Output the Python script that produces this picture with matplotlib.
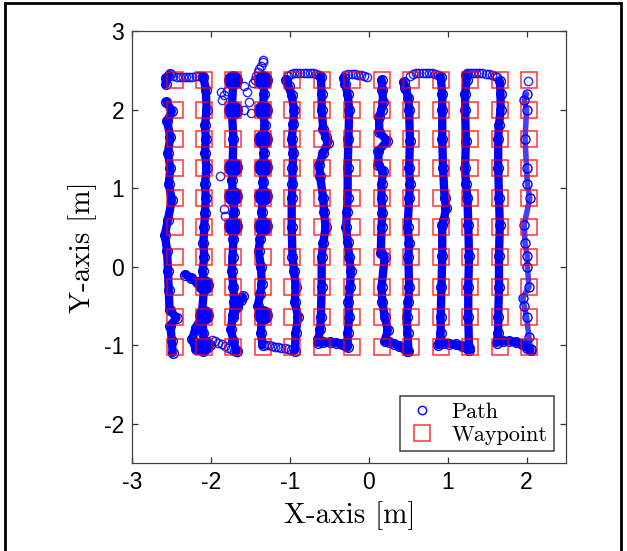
import matplotlib.pyplot as plt
from matplotlib.lines import Line2D
from matplotlib.patches import Rectangle

plt.rcParams['axes.unicode_minus'] = False

# waypoint grid [m]
wp_x = [-2.46, -2.09, -1.72, -1.35, -0.97, -0.60, -0.22, 0.16, 0.53, 0.91, 1.28, 1.66, 2.03]
wp_y = [2.38, 2.00, 1.63, 1.25, 0.87, 0.50, 0.12, -0.26, -0.64, -1.02]

# flown path, dense legs
col1_x = [-2.49, -2.50, -2.52, -2.44, -2.53, -2.54, -2.55, -2.56, -2.59, -2.55, -2.50, -2.54, -2.52, -2.55, -2.52, -2.56, -2.50, -2.57]
col1_y = [-1.10, -0.95, -0.75, -0.65, -0.55, -0.30, -0.05, 0.20, 0.40, 0.60, 0.85, 1.05, 1.25, 1.45, 1.65, 1.85, 1.98, 2.10]
top1_x = [-2.58, -2.57, -2.53]
top1_y = [2.32, 2.40, 2.45]

col2_x = [-2.10, -2.07, -2.06, -2.08, -2.07, -2.08, -2.06, -2.08, -2.07, -2.08, -2.09, -2.10, -2.09, -2.11, -2.09, -2.12, -2.10, -2.08]
col2_y = [2.42, 2.25, 2.00, 1.80, 1.63, 1.45, 1.25, 1.05, 0.87, 0.68, 0.50, 0.30, 0.12, -0.05, -0.26, -0.60, -0.85, -1.02]
spur2_x = [-2.10, -2.18, -2.26, -2.33]
spur2_y = [-0.26, -0.20, -0.14, -0.10]
foot2_x = [-2.12, -2.20, -2.24, -2.20, -2.10, -2.02]
foot2_y = [-0.65, -0.78, -0.92, -1.05, -1.08, -1.00]

col3_x = [-1.68, -1.72, -1.75, -1.73, -1.71, -1.72, -1.74, -1.73, -1.72, -1.73, -1.71, -1.72, -1.74, -1.73, -1.72, -1.74, -1.72]
col3_y = [-1.08, -0.95, -0.80, -0.64, -0.45, -0.26, -0.05, 0.12, 0.35, 0.52, 0.70, 0.90, 1.10, 1.27, 1.63, 2.00, 2.38]
spur3_x = [-1.72, -1.67, -1.62, -1.60]
spur3_y = [-0.62, -0.52, -0.42, -0.38]

col4_x = [-1.34, -1.33, -1.35, -1.32, -1.35, -1.33, -1.35, -1.34, -1.35, -1.36, -1.35, -1.38, -1.40, -1.37, -1.36, -1.38, -1.41, -1.36, -1.37, -1.35]
col4_y = [2.38, 2.20, 2.00, 1.80, 1.63, 1.45, 1.27, 1.08, 0.90, 0.70, 0.52, 0.35, 0.20, 0.00, -0.22, -0.35, -0.50, -0.62, -0.85, -1.00]

col5_x = [-0.94, -0.93, -0.90, -0.94, -0.93, -0.95, -0.97, -0.98, -0.98, -0.97, -0.97, -0.96, -0.98, -0.96, -0.95, -0.98, -1.02, -1.05]
col5_y = [-1.07, -0.85, -0.64, -0.45, -0.26, -0.05, 0.12, 0.50, 0.87, 1.05, 1.25, 1.45, 1.63, 1.82, 2.00, 2.18, 2.30, 2.38]

col6_x = [-0.61, -0.60, -0.60, -0.58, -0.55, -0.52, -0.58, -0.63, -0.62, -0.58, -0.57, -0.55, -0.58, -0.60, -0.60, -0.61, -0.62, -0.64, -0.65,
          -0.58, -0.50, -0.42, -0.34, -0.29]
col6_y = [2.42, 2.20, 2.00, 1.75, 1.65, 1.58, 1.45, 1.30, 1.15, 0.87, 0.70, 0.50, 0.30, 0.12, -0.26, -0.64, -0.80, -0.92, -0.97,
          -0.96, -0.96, -0.97, -0.99, -1.01]

col7_x = [-0.27, -0.27, -0.25, -0.26, -0.24, -0.23, -0.25, -0.27, -0.29, -0.28, -0.27, -0.27, -0.26, -0.25, -0.27, -0.30, -0.32]
col7_y = [-1.02, -0.85, -0.64, -0.45, -0.26, -0.05, 0.12, 0.32, 0.50, 0.70, 0.87, 1.25, 1.63, 2.00, 2.20, 2.32, 2.40]

col8_x = [0.16, 0.17, 0.18, 0.16, 0.13, 0.13, 0.23, 0.12, 0.12, 0.18, 0.16, 0.16, 0.17, 0.16, 0.15, 0.20, 0.16, 0.17, 0.20, 0.24, 0.20,
          0.26, 0.32, 0.38, 0.44, 0.48]
col8_y = [2.38, 2.25, 2.10, 2.00, 1.90, 1.72, 1.60, 1.47, 1.30, 1.22, 1.05, 0.87, 0.68, 0.51, 0.17, 0.12, -0.26, -0.45, -0.64, -0.81, -0.95,
          -0.96, -0.98, -1.01, -1.04, -1.07]

col9_x = [0.50, 0.49, 0.48, 0.50, 0.51, 0.50, 0.51, 0.49, 0.51, 0.52, 0.51, 0.52, 0.51, 0.50, 0.46, 0.44]
col9_y = [-1.07, -0.85, -0.64, -0.45, -0.26, 0.12, 0.30, 0.51, 0.87, 1.05, 1.26, 1.60, 2.00, 2.15, 2.28, 2.35]

col10_x = [0.91, 0.93, 0.93, 0.93, 0.94, 0.96, 0.98, 0.95, 0.93, 0.93, 0.92, 0.91, 0.91, 0.90, 0.88,
           0.94, 1.02, 1.10, 1.18, 1.24, 1.27]
col10_y = [2.42, 2.20, 2.00, 1.63, 1.26, 0.87, 0.75, 0.60, 0.53, 0.13, -0.26, -0.64, -0.85, -0.95, -1.00,
           -0.97, -0.98, -0.99, -1.01, -1.04, -1.06]

col11_x = [1.27, 1.26, 1.26, 1.27, 1.26, 1.25, 1.23, 1.22, 1.23, 1.22, 1.22, 1.24, 1.23]
col11_y = [-1.04, -0.64, -0.26, 0.13, 0.53, 0.87, 1.05, 1.26, 1.60, 2.00, 2.20, 2.38, 2.44]

col12_x = [1.66, 1.67, 1.67, 1.65, 1.64, 1.64, 1.65, 1.66, 1.65, 1.65, 1.64, 1.64, 1.62,
           1.70, 1.78, 1.86, 1.94, 2.00, 2.05]
col12_y = [2.36, 2.20, 2.00, 1.80, 1.63, 1.26, 0.87, 0.53, 0.13, -0.26, -0.64, -0.85, -0.97,
           -0.95, -0.95, -0.96, -0.99, -1.03, -1.06]

col13_x = [2.05, 2.03, 2.00, 1.97, 1.95, 2.03, 2.01, 2.01, 1.98, 1.97, 2.04, 2.01, 2.00, 1.98, 2.00, 1.97, 2.00]
col13_y = [-1.05, -0.90, -0.64, -0.50, -0.40, -0.26, 0.00, 0.13, 0.30, 0.53, 0.87, 1.05, 1.26, 1.63, 2.00, 2.12, 2.20]

# sparse samples (fast turns, strays)
turn1_x = [-2.48, -2.44, -2.40, -2.36, -2.32, -2.28, -2.24, -2.20, -2.16, -2.12]
turn1_y = [2.43, 2.42, 2.42, 2.42, 2.42, 2.42, 2.42, 2.43, 2.43, 2.43]
turn2_x = [-1.99, -1.95, -1.91, -1.87, -1.83, -1.79, -1.75, -1.71, -1.68]
turn2_y = [-0.93, -0.95, -0.97, -0.99, -1.01, -1.03, -1.05, -1.07, -1.09]
tail4_x = [-1.47, -1.45, -1.43, -1.41, -1.39, -1.37, -1.35, -1.34]
tail4_y = [2.34, 2.38, 2.43, 2.48, 2.52, 2.56, 2.60, 2.63]
turn4_x = [-1.31, -1.27, -1.23, -1.19, -1.15, -1.11, -1.07, -1.03, -0.99]
turn4_y = [-1.00, -1.00, -1.01, -1.02, -1.02, -1.03, -1.04, -1.05, -1.06]
turn5_x = [-1.03, -0.99, -0.95, -0.91, -0.87, -0.83, -0.79, -0.75, -0.71, -0.67, -0.63]
turn5_y = [2.43, 2.45, 2.46, 2.46, 2.46, 2.46, 2.46, 2.46, 2.46, 2.45, 2.44]
turn7_x = [-0.30, -0.26, -0.22, -0.18, -0.14, -0.10, -0.06, -0.02]
turn7_y = [2.44, 2.45, 2.45, 2.45, 2.44, 2.44, 2.43, 2.42]
turn9_x = [0.52, 0.56, 0.60, 0.64, 0.68, 0.72, 0.76, 0.80, 0.84, 0.88]
turn9_y = [2.43, 2.45, 2.46, 2.46, 2.46, 2.46, 2.46, 2.46, 2.45, 2.44]
turn11_x = [1.24, 1.28, 1.32, 1.36, 1.40, 1.44, 1.48, 1.52, 1.56, 1.60, 1.63]
turn11_y = [2.46, 2.46, 2.46, 2.46, 2.46, 2.46, 2.45, 2.45, 2.44, 2.43, 2.41]
stray_x = [-1.88, -1.84, -1.80, -1.86, -1.89, -1.84, -1.82, -1.58, -1.55, -1.52, -1.58, -1.50, 2.02]
stray_y = [2.22, 2.18, 2.24, 2.12, 1.15, 0.74, 0.65, 2.30, 2.22, 2.10, 2.00, 1.95, 2.37]

# hover blobs near waypoints
hover_x = [-1.72, -1.72, -1.72, -1.72, -1.72, -1.35, -1.35, -1.35, -1.35, -1.35, -1.35, -1.35, -2.09, -2.09, -2.09]
hover_y = [2.38, 2.00, 1.27, 0.90, 0.52, 2.38, 2.00, 1.63, 1.27, 0.90, 0.52, -0.62, -0.24, -0.62, -1.00]

dense_legs = [(col1_x, col1_y), (top1_x, top1_y), (col2_x, col2_y), (spur2_x, spur2_y), (foot2_x, foot2_y),
              (col3_x, col3_y), (spur3_x, spur3_y), (col4_x, col4_y), (col5_x, col5_y), (col6_x, col6_y),
              (col7_x, col7_y), (col8_x, col8_y), (col9_x, col9_y), (col10_x, col10_y), (col11_x, col11_y),
              (col12_x, col12_y)]
sparse_runs = [(turn1_x, turn1_y), (turn2_x, turn2_y), (tail4_x, tail4_y), (turn4_x, turn4_y),
               (turn5_x, turn5_y), (turn7_x, turn7_y), (turn9_x, turn9_y), (turn11_x, turn11_y),
               (stray_x, stray_y)]

blue = (0, 0, 1)
red = (1, 0, 0)

fig = plt.figure(figsize=(6.27, 5.51), dpi=100)
ax = fig.add_axes([0.2113, 0.1597, 0.6914, 0.7840])

for xs, ys in dense_legs:
    ax.plot(xs, ys, '-', color=blue, lw=6, solid_capstyle='round', solid_joinstyle='round')
    ax.plot(xs, ys, 'o', mfc='none', mec=blue, ms=7, mew=1)
ax.plot(col13_x, col13_y, '-', color=blue, lw=4, alpha=0.75, solid_capstyle='round')
ax.plot(col13_x, col13_y, 'o', mfc='none', mec=blue, ms=6.5, mew=1)
for xs, ys in sparse_runs:
    ax.plot(xs, ys, 'o', mfc='none', mec=blue, ms=6, mew=1, alpha=0.85)
ax.plot(hover_x, hover_y, 'o', color=blue, ms=12.5)

gx = [x for x in wp_x for y in wp_y]
gy = [y for x in wp_x for y in wp_y]
ax.plot(gx, gy, 's', mfc='none', mec=red, ms=11.5, mew=1.1, alpha=0.8)

ax.set_xlim(-3, 2.5)
ax.set_ylim(-2.5, 3)
ax.set_xticks([-3, -2, -1, 0, 1, 2])
ax.set_yticks([-2, -1, 0, 1, 2, 3])
ax.tick_params(direction='in', top=True, right=True, length=4, width=0.9, color='0.2',
               labelsize=16.5, pad=6)
for lab in ax.get_xticklabels() + ax.get_yticklabels():
    lab.set_fontfamily('Liberation Sans')
for sp in ax.spines.values():
    sp.set_color('0.25')
    sp.set_linewidth(0.9)

ax.set_xlabel('X-axis [m]', fontfamily='cmr10', fontsize=21, labelpad=5)
ax.set_ylabel('Y-axis [m]', fontfamily='cmr10', fontsize=21, labelpad=5)

handles = [Line2D([], [], ls='none', marker='o', mfc='none', mec=blue, ms=6, mew=1),
           Line2D([], [], ls='none', marker='s', mfc='none', mec=red, ms=11, mew=1.1, alpha=0.8)]
leg = ax.legend(handles, ['Path', 'Waypoint'], loc='lower right', bbox_to_anchor=(0.972, 0.027),
                borderaxespad=0, fancybox=False, framealpha=1, edgecolor='0.25',
                prop={'family': 'cmr10', 'size': 16}, handlelength=1.4, handletextpad=0.6,
                borderpad=0.3, labelspacing=0.15)
leg.get_frame().set_linewidth(1.1)

fig.patches.append(Rectangle((5 / 627, -0.02), 616 / 627, 1 - 3 / 551 + 0.02, transform=fig.transFigure,
                             fill=False, ec='black', lw=2, clip_on=False))

fig.savefig('out.png', dpi=100)
